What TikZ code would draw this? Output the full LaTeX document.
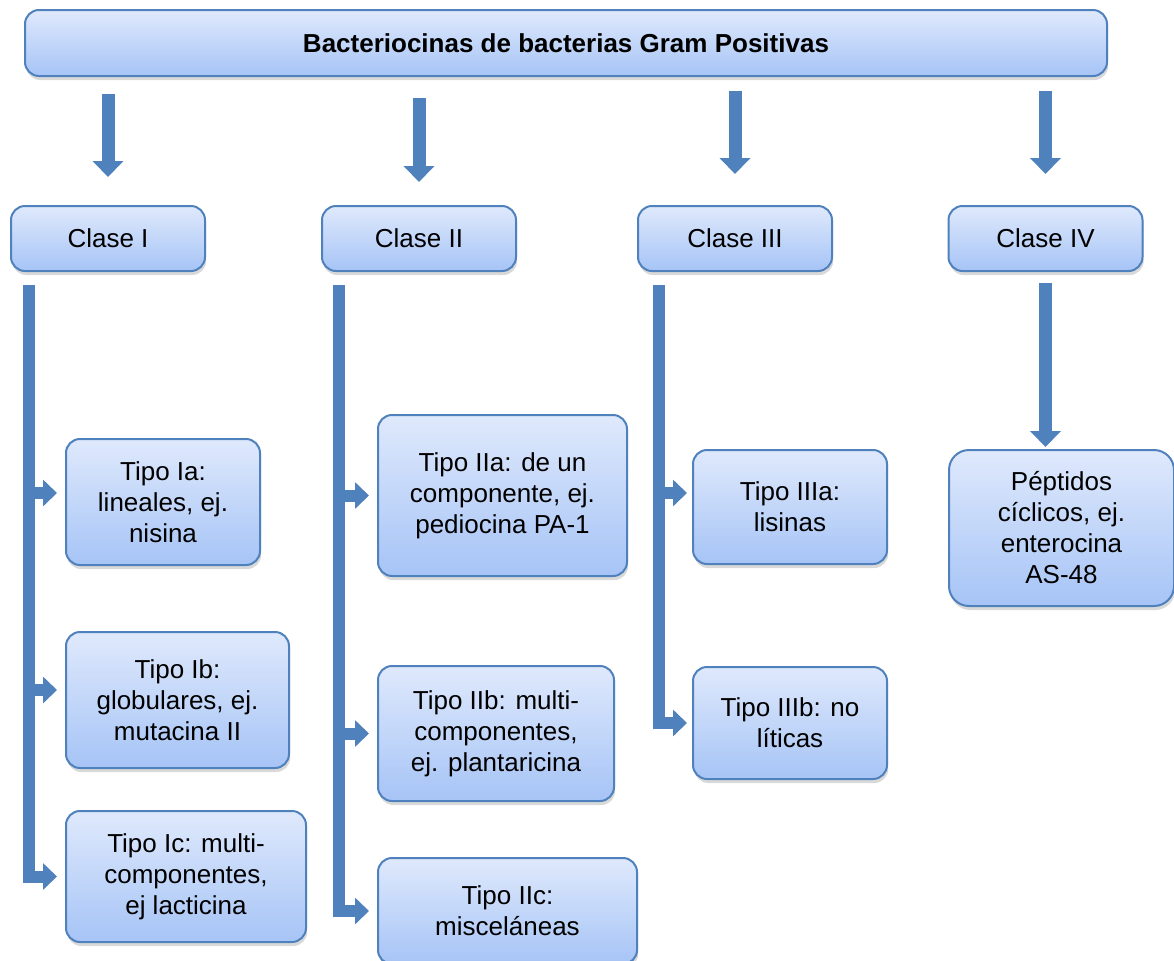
\documentclass[tikz,border=0pt]{standalone}
\usepackage{fontspec}
\setmainfont{Liberation Sans}
\usetikzlibrary{arrows.meta,shadows}
\definecolor{borde}{RGB}{79,129,189}
\definecolor{arriba}{RGB}{223,233,252}
\definecolor{abajo}{RGB}{166,196,246}
\tikzset{
  every picture/.style={line join=miter, line cap=butt},
  caja/.style={draw=borde, line width=1pt, rounded corners=7pt, top color=arriba, bottom color=abajo,
    align=center, inner sep=0pt, font=\fontsize{13}{15.5}\selectfont,
    drop shadow={shadow xshift=0.6pt, shadow yshift=-2pt, opacity=0.3}},
  flecha/.style={draw=borde, line width=6.5pt, -{Triangle[width=15pt,length=8pt]}},
  rama/.style={draw=borde, line width=6pt, -{Triangle[width=13pt,length=7pt]}},
}

\begin{document}
\begin{tikzpicture}[x=0.5pt,y=-0.5pt]
\useasboundingbox (0,0) rectangle (1174,960);
% cabecera
\node[caja, minimum width=541pt, minimum height=33pt, font=\fontsize{13}{15.5}\selectfont\bfseries] (titulo) at (566,43) {Bacteriocinas de bacterias Gram Positivas};
% clases
\node[caja, minimum width=97pt, minimum height=32.5pt] (c1) at (108,238.5) {Clase I};
\node[caja, minimum width=97pt, minimum height=32.5pt] (c2) at (419,238.5) {Clase II};
\node[caja, minimum width=97pt, minimum height=32.5pt] (c3) at (735,238.5) {Clase III};
\node[caja, minimum width=97pt, minimum height=32.5pt] (c4) at (1045.5,238.5) {Clase IV};
% tipos
\node[caja, minimum width=97pt, minimum height=63pt] (ia) at (163,502) {Tipo Ia:\\lineales, ej.\\nisina};
\node[caja, minimum width=111.5pt, minimum height=68pt] (ib) at (177.5,700) {Tipo Ib:\\globulares, ej.\\mutacina II};
\node[caja, minimum width=120pt, minimum height=65.5pt] (ic) at (186,876.5) {Tipo Ic: multi-\\componentes,\\ej lacticina};
\node[caja, minimum width=124.5pt, minimum height=80.5pt] (iia) at (502.5,495.5) {Tipo IIa: de un\\componente, ej.\\pediocina PA-1};
\node[caja, minimum width=118pt, minimum height=67.5pt] (iib) at (496,733.5) {Tipo IIb: multi-\\componentes,\\ej. plantaricina};
\node[caja, minimum width=129.5pt, minimum height=53pt] (iic) at (507.5,911) {Tipo IIc:\\misceláneas};
\node[caja, minimum width=97pt, minimum height=57pt] (iiia) at (790,507) {Tipo IIIa:\\lisinas};
\node[caja, minimum width=97pt, minimum height=56pt] (iiib) at (790,723) {Tipo IIIb: no\\líticas};
\node[caja, minimum width=112.5pt, minimum height=78pt, rounded corners=10pt] (pep) at (1061.5,528) {Péptidos\\cíclicos, ej.\\enterocina\\AS-48};
% flechas de la cabecera
\draw[flecha, shorten <=8.5pt, shorten >=14pt] (titulo.south -| c1.north) -- (c1.north);
\draw[flecha, shorten <=10.5pt, shorten >=11.5pt] (titulo.south -| c2.north) -- (c2.north);
\draw[flecha, shorten <=7pt, shorten >=15.5pt] (titulo.south -| c3.north) -- (c3.north);
\draw[flecha, shorten <=7pt, shorten >=15.5pt] (titulo.south -| c4.north) -- (c4.north);
\draw[flecha, shorten <=5.5pt, shorten >=1pt] (c4.south) -- (c4.south |- pep.north);
% ramas
\coordinate (s1) at (29,285);
\coordinate (s2) at (339,285);
\coordinate (s3) at (659,285);
\draw[rama, shorten >=4pt] (s1) |- (ic.west);
\draw[rama, shorten >=4pt] (s1 |- ia.west) ++(0,-9) -- ([yshift=4.5pt]ia.west);
\draw[rama, shorten >=4pt] (s1 |- ib.west) ++(0,-10) -- ([yshift=5pt]ib.west);
\draw[rama, shorten >=4pt] (s2) |- (iic.west);
\draw[rama, shorten >=4pt] (s2 |- iia.west) -- (iia.west);
\draw[rama, shorten >=4pt] (s2 |- iib.west) -- (iib.west);
\draw[rama, shorten >=2.5pt] (s3) |- (iiib.west);
\draw[rama, shorten >=2.5pt] (s3 |- iiia.west) ++(0,-14) -- ([yshift=7pt]iiia.west);
\end{tikzpicture}
\end{document}
